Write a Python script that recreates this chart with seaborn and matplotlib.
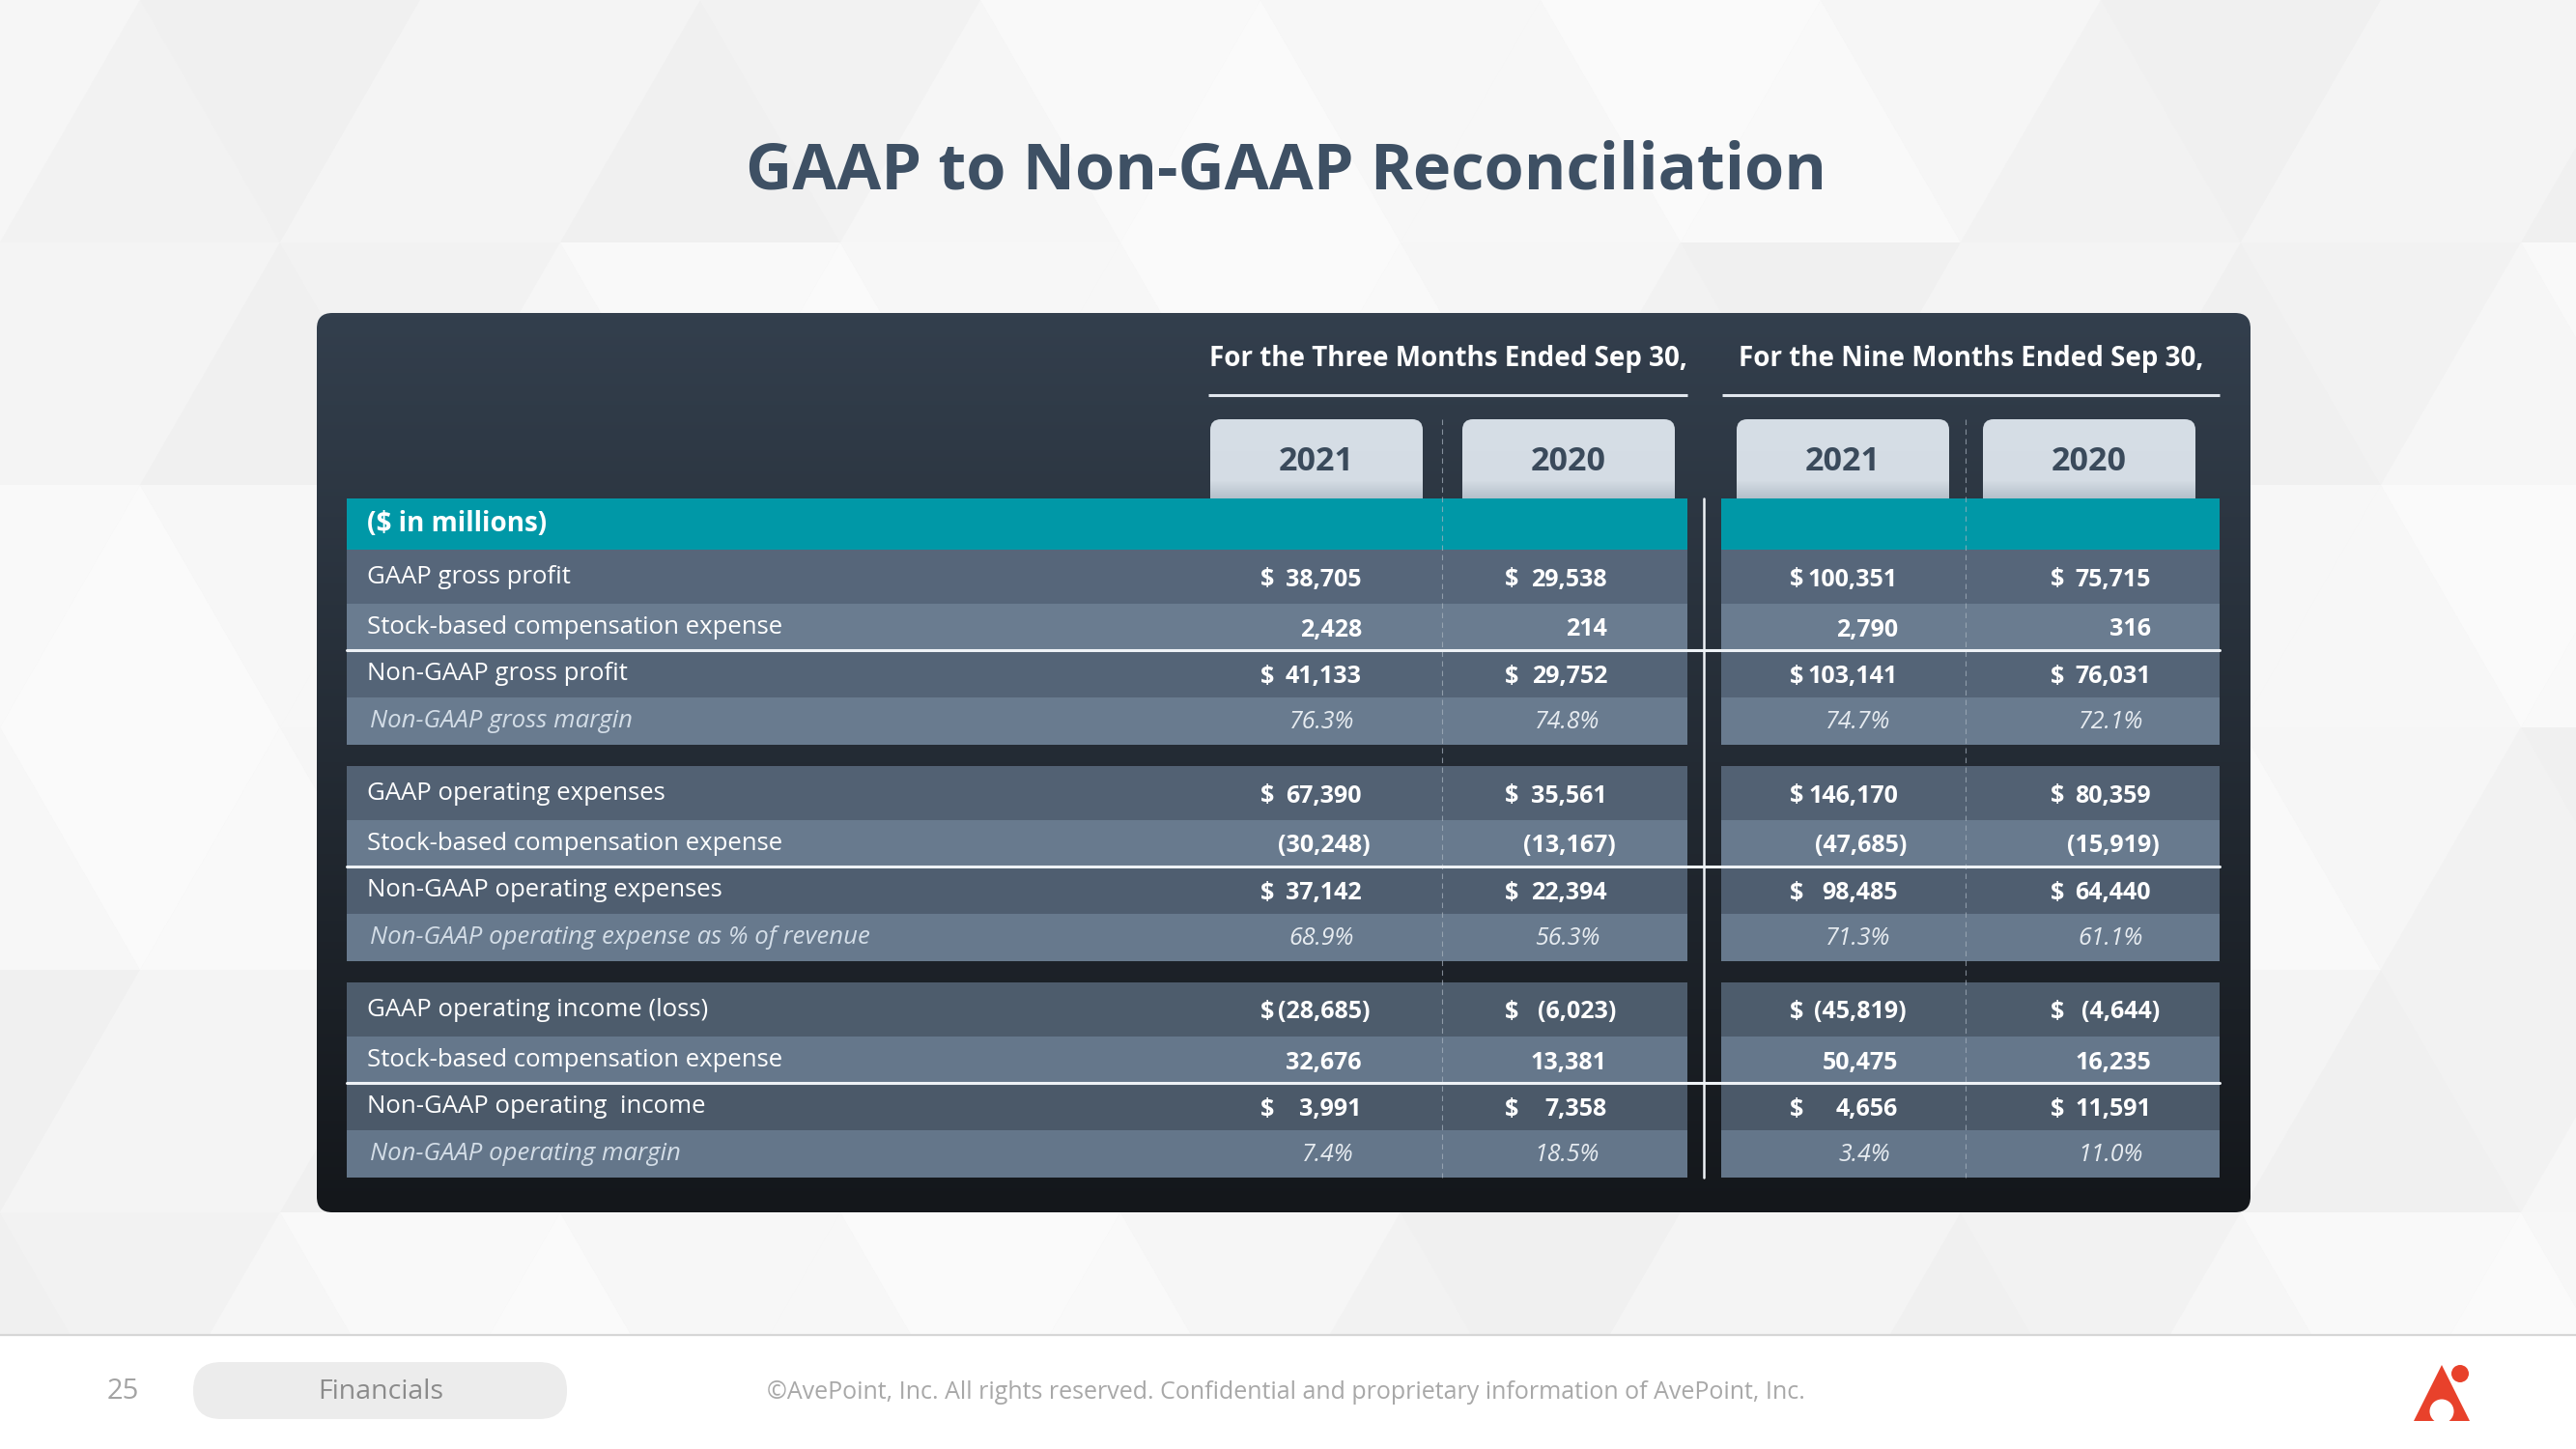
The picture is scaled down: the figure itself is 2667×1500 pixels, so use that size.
import matplotlib.pyplot as plt
from matplotlib.patches import FancyBboxPatch, Polygon, Circle, Rectangle
from matplotlib.colors import LinearSegmentedColormap, to_rgb
import numpy as np
import seaborn as sns

# ---- data -------------------------------------------------------------
title = 'GAAP to Non-GAAP Reconciliation'
period_titles = ['For the Three Months Ended Sep 30,', 'For the Nine Months Ended Sep 30,']
years = ['2021', '2020', '2021', '2020']
unit_label = '($ in millions)'

row_labels = [
    'GAAP gross profit',
    'Stock-based compensation expense',
    'Non-GAAP gross profit',
    'Non-GAAP gross margin',
    'GAAP operating expenses',
    'Stock-based compensation expense',
    'Non-GAAP operating expenses',
    'Non-GAAP operating expense as % of revenue',
    'GAAP operating income (loss)',
    'Stock-based compensation expense',
    'Non-GAAP operating  income',
    'Non-GAAP operating margin',
]
q3_2021 = [38705, 2428, 41133, 76.3, 67390, -30248, 37142, 68.9, -28685, 32676, 3991, 7.4]
q3_2020 = [29538, 214, 29752, 74.8, 35561, -13167, 22394, 56.3, -6023, 13381, 7358, 18.5]
ytd_2021 = [100351, 2790, 103141, 74.7, 146170, -47685, 98485, 71.3, -45819, 50475, 4656, 3.4]
ytd_2020 = [75715, 316, 76031, 72.1, 80359, -15919, 64440, 61.1, -4644, 16235, 11591, 11.0]

page_number = '25'
section = 'Financials'
copyright_text = '©AvePoint, Inc. All rights reserved. Confidential and proprietary information of AvePoint, Inc.'

# ---- style ------------------------------------------------------------
sns.set_theme(style='white')
plt.rcParams['font.family'] = ['Open Sans', 'DejaVu Sans']

W, H = 2667, 1500
fig = plt.figure(figsize=(W / 100, H / 100), dpi=100)
ax = fig.add_axes([0, 0, 1, 1])


def gradient(x0, x1, y0, y1, c_top, c_bot, clip=None, z=1):
    cmap = LinearSegmentedColormap.from_list('g', [c_top, c_bot])
    im = ax.imshow(np.linspace(0, 1, 256)[:, None], cmap=cmap, aspect='auto',
                   extent=(x0, x1, y1, y0), origin='upper', zorder=z)
    if clip is not None:
        im.set_clip_path(clip)
    return im


def mix(c1, c2, t):
    a, b = np.array(to_rgb(c1)), np.array(to_rgb(c2))
    return tuple(a * (1 - t) + b * t)


# background with faint triangles
ax.add_patch(Rectangle((0, 0), W, 1382, color='#f5f5f5', zorder=0))
shades = ['#f2f2f2', '#f6f6f6', '#f9f9f9', '#f0f0f0', '#f7f7f7', '#f4f4f4', '#fafafa']
side, th = 290, 251
for r in range(6):
    for c in range(-1, 11):
        off = (r % 2) * side / 2
        x = c * side + off
        y0, y1 = r * th, (r + 1) * th
        up = [(x, y1), (x + side / 2, y0), (x + side, y1)]
        dn = [(x + side / 2, y0), (x + side * 1.5, y0), (x + side, y1)]
        ax.add_patch(Polygon(up, closed=True, color=shades[(r * 3 + c * 5) % 7], lw=0, zorder=0.1))
        ax.add_patch(Polygon(dn, closed=True, color=shades[(r * 4 + c * 2 + 3) % 7], lw=0, zorder=0.1))
ax.add_patch(Rectangle((0, 1382), W, H - 1382, color='white', zorder=0.5))
ax.plot([0, W], [1382, 1382], color='#d6d6d6', lw=1.6, zorder=0.6)

# title
ax.text(1332, 178, title, ha='center', va='center', fontsize=48, weight='bold', color='#3e5064')

# dark panel
panel = FancyBboxPatch((328, 324), 2002, 931, boxstyle='round,pad=0,rounding_size=16',
                       facecolor='none', edgecolor='none', zorder=1)
ax.add_patch(panel)
gradient(328, 2330, 324, 1255, '#333f4d', '#14171b', clip=panel, z=1)

# period headers
bands = [(359, 1747), (1782, 2298)]
for (t, (a, b), ul) in zip(period_titles, bands, [(1251, 1747), (1783, 2298)]):
    ax.text((ul[0] + ul[1]) / 2, 372, t, ha='center', va='center', fontsize=20,
            weight='bold', color='white', zorder=5)
    ax.plot(ul, [409, 409], color='#e1e7ee', lw=2.2, solid_capstyle='butt', zorder=5)

# year tabs
tab_x = [1253, 1514, 1798, 2053]
tab_w = 220
for x, yr in zip(tab_x, years):
    tab = FancyBboxPatch((x, 434), tab_w, 100, boxstyle='round,pad=0,rounding_size=11',
                         facecolor='none', edgecolor='none', zorder=2)
    ax.add_patch(tab)
    gradient(x, x + tab_w, 434, 534, '#d6dee6', '#d3dbe3', clip=tab, z=2)
    gradient(x, x + tab_w, 498, 517, '#d3dbe3', '#b3bec9', clip=tab, z=2.1)
    ax.text(x + tab_w / 2, 478, yr, ha='center', va='center', fontsize=24.5,
            weight='bold', color='#3a4a5b', zorder=3)

# table layout
row_h = [56, 48, 49, 49]
gap = 22
head_top, head_h = 516, 53
tops = []
y = head_top + head_h
for g in range(3):
    for h in row_h:
        tops.append(y)
        y += h
    y += gap
heights = [row_h[i % 4] for i in range(len(row_labels))]
centers = [t + h / 2 for t, h in zip(tops, heights)]
span = centers[-1] - centers[0]
row_colors = []
for i, yc in enumerate(centers):
    t = (yc - centers[0]) / span
    if i % 2 == 0:
        row_colors.append(mix('#56667a', '#4a5867', t))
    else:
        row_colors.append(mix('#6b7d91', '#64768a', t))

for a, b in bands:
    ax.barh([head_top + head_h / 2], [b - a], left=a, height=head_h, color='#0098a7',
            linewidth=0, zorder=3)
    ax.barh(centers, [b - a] * len(centers), left=a, height=heights, color=row_colors,
            linewidth=0, zorder=3)

ax.text(380, head_top + head_h / 2, unit_label, ha='left', va='center', fontsize=20,
        weight='bold', color='white', zorder=6)

# separators
for x in [1493, 2035]:
    ax.plot([x, x], [434, tops[-1] + heights[-1]], color='#a9b4c0', lw=0.8,
            ls=(0, (5, 4)), alpha=0.7, zorder=4)
ax.plot([1764, 1764], [516, tops[-1] + heights[-1]], color='#eef2f6', lw=1.8, zorder=4.5)
for g in range(3):
    yl = tops[g * 4 + 2]
    ax.plot([359, 2298], [yl, yl], color='#eef2f6', lw=2.2, zorder=4.6)

# labels
for i, (lab, yc) in enumerate(zip(row_labels, centers)):
    if i % 4 == 3:
        ax.text(383, yc, lab, ha='left', va='center', fontsize=18.5, style='italic',
                color='#d3dde7', zorder=6)
    else:
        ax.text(380, yc, lab, ha='left', va='center', fontsize=18.5, color='white', zorder=6)

# values
value_right = [1410, 1664, 1965, 2227]
dollar_x = [1305, 1558, 1853, 2123]
for series, xr, xd in zip([q3_2021, q3_2020, ytd_2021, ytd_2020], value_right, dollar_x):
    for i, (v, yc) in enumerate(zip(series, centers)):
        kind = i % 4
        if kind == 3:
            ax.text(xr - 8, yc + 1, f'{v:.1f}%', ha='right', va='center', fontsize=18,
                    style='italic', color='#e6ebf0', zorder=6)
            continue
        s = f'{abs(v):,}'
        if v < 0:
            s = f'({s})'
        ax.text(xr + (9 if v < 0 else 0), yc + 3, s, ha='right', va='center', fontsize=18,
                weight='bold', color='white', zorder=6)
        if kind in (0, 2):
            ax.text(xd, yc + 3, '$', ha='left', va='center', fontsize=18,
                    weight='bold', color='white', zorder=6)

# footer
ax.text(127, 1441, page_number, ha='center', va='center', fontsize=21, color='#a3a3a3')
pill = FancyBboxPatch((200, 1410), 387, 59, boxstyle='round,pad=0,rounding_size=29',
                      facecolor='#ececec', edgecolor='none', zorder=1)
ax.add_patch(pill)
ax.text(394, 1441, section, ha='center', va='center', fontsize=20.5, color='#8b8b8b', zorder=2)
ax.text(794, 1441, copyright_text, ha='left', va='center', fontsize=18, color='#a8a8a8')

# logo
red = '#e8412b'
ax.add_patch(Polygon([(2499, 1471), (2528, 1413), (2557, 1471)], closed=True, color=red, lw=0, zorder=2))
ax.add_patch(Circle((2528, 1461), 12.5, color='white', lw=0, zorder=3))
ax.add_patch(Circle((2547, 1422), 9, color=red, lw=0, zorder=3))

ax.set_xlim(0, W)
ax.set_ylim(H, 0)
ax.axis('off')
sns.despine(ax=ax, left=True, bottom=True)

fig.savefig('out.png', dpi=100)
